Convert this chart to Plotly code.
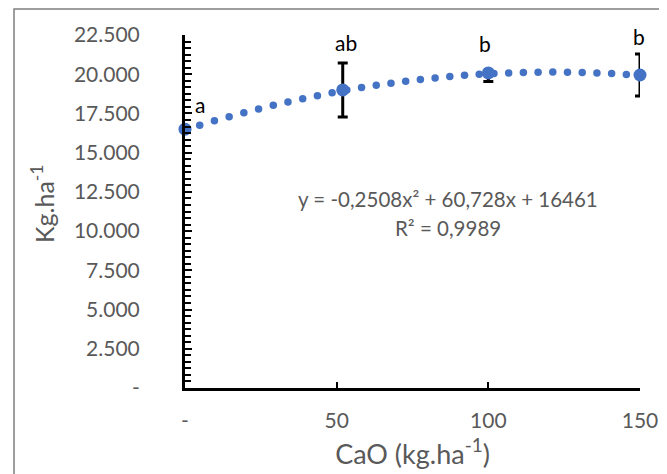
import numpy as np
import plotly.graph_objects as go

# data
dose = [0, 52, 100, 150]
yield_kg = [16500, 19000, 20080, 19950]
err_plus = [0, 1720, 0, 1340]
err_minus = [0, 1720, 550, 1340]
letters = ["a", "ab", "b", "b"]
trend_coef = [-0.2508, 60.728, 16461]  # quadratic trendline shown on chart
y_tickvals = [0, 2500, 5000, 7500, 10000, 12500, 15000, 17500, 20000, 22500]
y_ticktext = ["-", "2.500", "5.000", "7.500", "10.000", "12.500", "15.000", "17.500", "20.000", "22.500"]
x_tickvals = [0, 50, 100, 150]
x_ticktext = ["-", "50", "100", "150"]

BLUE = "#4472C4"
GRAY = "#595959"
FONT = "Lato, 'Open Sans', sans-serif"

# trendline drawn as round dots along the fitted curve
xs = np.arange(0, 150.01, 4.85)
ys = trend_coef[0] * xs**2 + trend_coef[1] * xs + trend_coef[2]

fig = go.Figure()
fig.add_trace(go.Scatter(
    x=xs, y=ys, mode="markers",
    marker=dict(color=BLUE, size=7.5),
    hoverinfo="skip", showlegend=False, cliponaxis=False,
))
fig.add_trace(go.Scatter(
    x=dose, y=yield_kg, mode="markers",
    marker=dict(color=BLUE, size=13),
    error_y=dict(type="data", symmetric=False, array=err_plus, arrayminus=err_minus,
                 color="black", thickness=3, width=5),
    showlegend=False, cliponaxis=False,
))

# letter annotations
offsets = [(15, -25), (3, -47), (-3, -29), (-1, -39)]
for x, y, t, (dx, dy) in zip(dose, yield_kg, letters, offsets):
    fig.add_annotation(x=x, y=y, text=t, showarrow=False, xref="x", yref="y",
                       xshift=dx, yshift=-dy, font=dict(size=21, color="black", family=FONT))

# plot area in figure px: x 177..632, y 27..380
def px(xp):
    return (xp - 177) / 455

def py(yp):
    return (380 - yp) / 353

fig.add_annotation(x=px(440), y=py(191), xref="paper", yref="paper",
                   xanchor="center", yanchor="middle",
                   showarrow=False, text="y = -0,2508x² + 60,728x + 16461",
                   font=dict(size=20.5, color=GRAY, family=FONT))
fig.add_annotation(x=px(440), y=py(220), xref="paper", yref="paper",
                   xanchor="center", yanchor="middle",
                   showarrow=False, text="R² = 0,9989",
                   font=dict(size=20.5, color=GRAY, family=FONT))
# y-axis title
fig.add_annotation(x=px(34), y=py(196), xref="paper", yref="paper",
                   xanchor="center", yanchor="middle",
                   showarrow=False, text="Kg.ha<sup>-1</sup>", textangle=-90,
                   font=dict(size=25, color=GRAY, family=FONT))

fig.update_layout(
    width=667, height=474,
    margin=dict(l=177, r=35, t=27, b=94),
    paper_bgcolor="white", plot_bgcolor="white",
    font=dict(family=FONT, color=GRAY),
    xaxis=dict(
        range=[0, 150], tickvals=x_tickvals, ticktext=x_ticktext,
        showgrid=False, zeroline=False, showline=True, linecolor="black", linewidth=3,
        ticks="inside", ticklen=6, tickwidth=2, tickcolor="black",
        tickfont=dict(size=21, color=GRAY), ticklabelstandoff=12,
        title=dict(text="CaO (kg.ha<sup>-1</sup>)", font=dict(size=27, color=GRAY), standoff=14),
    ),
    yaxis=dict(
        range=[0, 22500], tickvals=y_tickvals, ticktext=y_ticktext,
        showgrid=False, zeroline=False, showline=True, linecolor="black", linewidth=3,
        ticks="inside", ticklen=7, tickwidth=2, tickcolor="black",
        minor=dict(ticks="inside", ticklen=6, tickwidth=2, tickcolor="black", dtick=2500/6, showgrid=False),
        tickfont=dict(size=21, color=GRAY), ticklabelstandoff=38,
    ),
    shapes=[dict(type="rect", xref="paper", yref="paper",
                 x0=px(6), x1=1.2, y0=-0.5, y1=1 + 26 / 353,
                 line=dict(color="#7f7f7f", width=1.5), fillcolor="rgba(0,0,0,0)", layer="below")],
)

fig.write_html("out.html")
